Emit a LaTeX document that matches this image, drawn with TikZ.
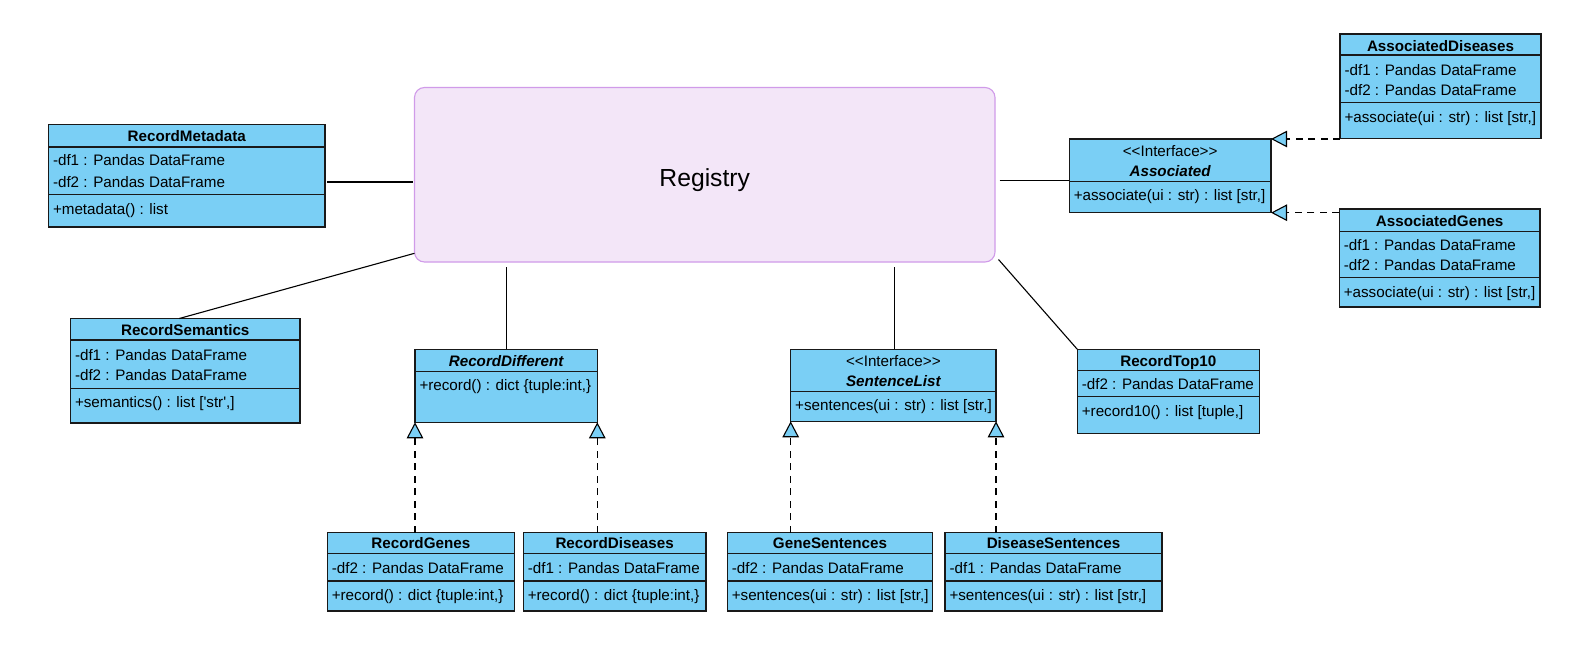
\documentclass[tikz,border=0pt]{standalone}
\usepackage{fontspec}
\newfontfamily\umlfont{Liberation Sans}
\usetikzlibrary{arrows.meta}
\definecolor{umlblue}{RGB}{122,207,245}
\definecolor{regfill}{RGB}{243,230,248}
\definecolor{regdraw}{RGB}{208,155,233}

% class box: name, x1, y1, x2, y2 (pixel-style coordinates, y downwards)
\newcommand\umlrect[5]{%
  \node[umlbox, minimum width={(#4-#2)*1pt}, minimum height={(#5-#3)*1pt}]
    (#1) at ({(#2+#4)/2},{(#3+#5)/2}) {};}
% compartment divider across box #1 at height #2
\newcommand\umlsep[2]{\draw[umlline] (#1.west |- 0,#2) -- (#1.east |- 0,#2);}
% centred line of text: node name, box, baseline, text
\newcommand\umlcentre[4]{\node[umltext, anchor=base] (#1) at (#2.north |- 0,#3) {#4};}
% left aligned member line: node name, box, baseline, text
\newcommand\umlitem[4]{\node[umltext, anchor=base west, xshift=4.5pt] (#1) at (#2.west |- 0,#3) {#4};}

\begin{document}
\begin{tikzpicture}[x=1pt,y=-1pt,
  umlbox/.style={rectangle, draw=black!90, fill=umlblue, line width=1.1pt, inner sep=0pt, outer sep=0pt},
  umlline/.style={draw=black!90, line width=1.1pt},
  umltext/.style={inner sep=0pt, outer sep=0pt, font=\umlfont\fontsize{15.2}{18}\selectfont},
  regbox/.style={rectangle, rounded corners=10pt, draw=regdraw, fill=regfill, line width=1.1pt, inner sep=0pt, outer sep=0pt},
  assoc/.style={draw=black, line width=1.1pt},
  realize/.style={draw=black, line width=1.1pt, dash pattern=on 7pt off 5.5pt,
    -{Triangle[length=16pt, width=16.5pt, fill=umlblue]}}]

\fill[white] (0,0) rectangle (1573,653);
\useasboundingbox (0,0) rectangle (1573,653);

% Registry
\node[regbox, minimum width=580.5pt, minimum height=174.5pt] (reg) at (704.75,174.75) {};
\node[umltext, font=\umlfont\fontsize{24.7}{30}\selectfont, anchor=base] (reg-label) at (reg.center |- 0,186.7) {Registry};

% RecordMetadata
\umlrect{rm}{48.5}{124.5}{325}{227}
\umlsep{rm}{147}\umlsep{rm}{194.5}
\umlcentre{rm-t}{rm}{141.7}{\bfseries RecordMetadata}
\umlitem{rm-a1}{rm}{165.7}{-df1 : Pandas DataFrame}
\umlitem{rm-a2}{rm}{187}{-df2 : Pandas DataFrame}
\umlitem{rm-m1}{rm}{214}{+metadata() : list}

% RecordSemantics
\umlrect{rs}{70.5}{318.5}{300}{423}
\umlsep{rs}{340}\umlsep{rs}{388.3}
\umlcentre{rs-t}{rs}{335.3}{\bfseries RecordSemantics}
\umlitem{rs-a1}{rs}{360}{-df1 : Pandas DataFrame}
\umlitem{rs-a2}{rs}{380.7}{-df2 : Pandas DataFrame}
\umlitem{rs-m1}{rs}{407.7}{+semantics() : list [\char39 str\char39,]}

% RecordDifferent
\umlrect{rd}{415}{349.3}{597.3}{422.3}
\umlsep{rd}{371.3}
\umlcentre{rd-t}{rd}{366}{\bfseries\itshape RecordDifferent}
\umlitem{rd-m1}{rd}{390}{+record() : dict \{tuple:int,\}}

% RecordGenes
\umlrect{rg}{327.3}{532.7}{514.3}{611}
\umlsep{rg}{553.3}\umlsep{rg}{581}
\umlcentre{rg-t}{rg}{548.3}{\bfseries RecordGenes}
\umlitem{rg-a1}{rg}{573.3}{-df2 : Pandas DataFrame}
\umlitem{rg-m1}{rg}{600}{+record() : dict \{tuple:int,\}}

% RecordDiseases
\umlrect{rdis}{523.3}{532.7}{706}{611}
\umlsep{rdis}{553.3}\umlsep{rdis}{581}
\umlcentre{rdis-t}{rdis}{548.3}{\bfseries RecordDiseases}
\umlitem{rdis-a1}{rdis}{573.3}{-df1 : Pandas DataFrame}
\umlitem{rdis-m1}{rdis}{600}{+record() : dict \{tuple:int,\}}

% SentenceList
\umlrect{sl}{790.7}{349.3}{996}{421.3}
\umlsep{sl}{391.7}
\umlcentre{sl-s}{sl}{366.7}{<\kern0pt<Interface>\kern0pt>}
\umlcentre{sl-t}{sl}{386.7}{\bfseries\itshape SentenceList}
\umlitem{sl-m1}{sl}{410}{+sentences(ui : str) : list [str,]}

% GeneSentences
\umlrect{gs}{727.3}{532.7}{932.7}{611}
\umlsep{gs}{553.3}\umlsep{gs}{581}
\umlcentre{gs-t}{gs}{548.3}{\bfseries GeneSentences}
\umlitem{gs-a1}{gs}{573.3}{-df2 : Pandas DataFrame}
\umlitem{gs-m1}{gs}{600}{+sentences(ui : str) : list [str,]}

% DiseaseSentences
\umlrect{ds}{945}{532.7}{1162}{611}
\umlsep{ds}{553.3}\umlsep{ds}{581}
\umlcentre{ds-t}{ds}{548.3}{\bfseries DiseaseSentences}
\umlitem{ds-a1}{ds}{573.3}{-df1 : Pandas DataFrame}
\umlitem{ds-m1}{ds}{600}{+sentences(ui : str) : list [str,]}

% RecordTop10
\umlrect{rt}{1077.3}{349.3}{1259.3}{433.3}
\umlsep{rt}{370.7}\umlsep{rt}{396.7}
\umlcentre{rt-t}{rt}{366.7}{\bfseries RecordTop10}
\umlitem{rt-a1}{rt}{389.3}{-df2 : Pandas DataFrame}
\umlitem{rt-m1}{rt}{416.7}{+record10() : list [tuple,]}

% Associated
\umlrect{as}{1069.3}{139}{1271}{212.7}
\umlsep{as}{181.7}
\umlcentre{as-s}{as}{156.7}{<\kern0pt<Interface>\kern0pt>}
\umlcentre{as-t}{as}{176.7}{\bfseries\itshape Associated}
\umlitem{as-m1}{as}{200}{+associate(ui : str) : list [str,]}

% AssociatedDiseases
\umlrect{ad}{1340}{34}{1541}{138.7}
\umlsep{ad}{55}\umlsep{ad}{102.7}
\umlcentre{ad-t}{ad}{51.7}{\bfseries AssociatedDiseases}
\umlitem{ad-a1}{ad}{75}{-df1 : Pandas DataFrame}
\umlitem{ad-a2}{ad}{95.3}{-df2 : Pandas DataFrame}
\umlitem{ad-m1}{ad}{122.7}{+associate(ui : str) : list [str,]}

% AssociatedGenes
\umlrect{ag}{1339.3}{209}{1540}{307}
\umlsep{ag}{231.7}\umlsep{ag}{277.7}
\umlcentre{ag-t}{ag}{226.7}{\bfseries AssociatedGenes}
\umlitem{ag-a1}{ag}{250}{-df1 : Pandas DataFrame}
\umlitem{ag-a2}{ag}{270.7}{-df2 : Pandas DataFrame}
\umlitem{ag-m1}{ag}{297.7}{+associate(ui : str) : list [str,]}

% associations with the registry
\draw[assoc, shorten <=2pt, shorten >=2pt] (rm.east |- 0,182) -- (reg.west |- 0,182);
\draw[assoc] (rs.north -| 179.3,0) -- (reg.west |- 0,253.3);
\draw[assoc, shorten >=4.5pt] (rd.north) -- (rd.north |- reg.south);
\draw[assoc, shorten >=4.5pt] (sl.north -| 894.5,0) -- (reg.south -| 894.5,0);
\draw[assoc] ([shift={(3.5,-2.5)}]reg.south east) -- (rt.north west);
\draw[assoc, shorten <=4.7pt] (reg.east |- 0,180.5) -- (as.west |- 0,180.5);

% realizations
\draw[realize] (rg.north -| rd.south west) -- (rd.south west);
\draw[realize] (rdis.north -| rd.south east) -- (rd.south east);
\draw[realize] (gs.north -| sl.south west) -- (sl.south west);
\draw[realize] (ds.north -| sl.south east) -- (sl.south east);
\draw[realize] (ad.west |- as.north east) -- (as.north east);
\draw[realize] (ag.west |- as.south east) -- (as.south east);
\end{tikzpicture}
\end{document}
